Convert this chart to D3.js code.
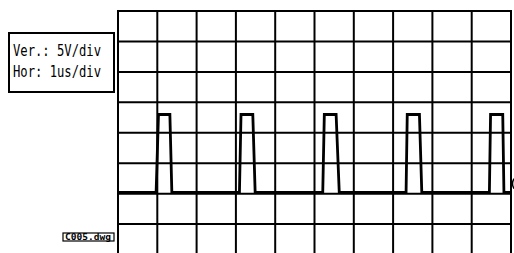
<!DOCTYPE html>
<html>
<head>
<meta charset="utf-8">
<script src="https://cdn.jsdelivr.net/npm/d3@7"></script>
<style>
  body { margin: 0; background: #fff; }
  svg { display: block; }
</style>
</head>
<body>
<script>
// scope settings, 10 x 8 divisions
var xTicks = [0, 1, 2, 3, 4, 5, 6, 7, 8, 9, 10];     // us
var yTicks = [-10, -5, 0, 5, 10, 15, 20, 25, 30];    // V
var infoLines = ["Ver.: 5V/div", "Hor: 1us/div"];
var fileLabel = "C005.dwg";

// trace: time (us) and volts
var traceT = [0, 0.97, 1.03, 1.32, 1.37,
              3.09, 3.13, 3.43, 3.49,
              5.21, 5.25, 5.55, 5.63,
              7.33, 7.36, 7.67, 7.73,
              9.45, 9.48, 9.79, 9.82, 10];
var traceV = [0.2, 0.2, 13, 13, 0.2,
              0.2, 13, 13, 0.2,
              0.2, 13, 13, 0.2,
              0.2, 13, 13, 0.2,
              0.2, 13, 13, 0.2, 0.2];

var width = 514, height = 253;

var svg = d3.select("body").append("svg")
  .attr("width", width)
  .attr("height", height);

var x = d3.scaleLinear().domain([0, 10]).range([118, 511]);
var y = d3.scaleLinear().domain([-10, 30]).range([254.5, 11]);

// grid
var grid = svg.append("g").attr("stroke", "#000").attr("stroke-width", 2);
grid.selectAll("line.v").data(xTicks).enter().append("line")
  .attr("class", "v")
  .attr("x1", d => x(d)).attr("x2", d => x(d))
  .attr("y1", y(30) - 1).attr("y2", y(-10));
grid.selectAll("line.h").data(yTicks).enter().append("line")
  .attr("class", "h")
  .attr("x1", x(0) - 1).attr("x2", x(10) + 1)
  .attr("y1", d => y(d)).attr("y2", d => y(d));

// trace
var pts = traceT.map((t, i) => [t, traceV[i]]);
var line = d3.line().x(d => x(d[0])).y(d => y(d[1]));
svg.append("path")
  .datum(pts)
  .attr("d", line)
  .attr("fill", "none")
  .attr("stroke", "#000")
  .attr("stroke-width", 2.8)
  .attr("stroke-linejoin", "miter");

// ground marker at right edge
svg.append("path")
  .attr("d", "M" + (x(10) + 3) + "," + (y(0) - 15) + " q-3,5 0,10")
  .attr("fill", "none")
  .attr("stroke", "#000")
  .attr("stroke-width", 1.5);

// info box
svg.append("rect")
  .attr("x", 9).attr("y", 33).attr("width", 105).attr("height", 59)
  .attr("fill", "#fff").attr("stroke", "#000").attr("stroke-width", 2);
svg.selectAll("text.info").data(infoLines).enter().append("text")
  .attr("class", "info")
  .attr("x", 13)
  .attr("y", (d, i) => 55.5 + i * 21)
  .attr("font-family", "DejaVu Sans Mono, monospace")
  .attr("font-size", 16)
  .attr("textLength", 88)
  .attr("lengthAdjust", "spacingAndGlyphs")
  .attr("fill", "#000")
  .text(d => d);

// file label
svg.append("rect")
  .attr("x", 63).attr("y", 233).attr("width", 51).attr("height", 8)
  .attr("fill", "#fff").attr("stroke", "#000").attr("stroke-width", 1.2);
svg.append("text")
  .attr("x", 65).attr("y", 239.8)
  .attr("font-family", "DejaVu Sans Mono, monospace")
  .attr("font-size", 8)
  .attr("font-weight", "bold")
  .attr("textLength", 46)
  .attr("lengthAdjust", "spacingAndGlyphs")
  .attr("fill", "#000")
  .text(fileLabel);
</script>
</body>
</html>
